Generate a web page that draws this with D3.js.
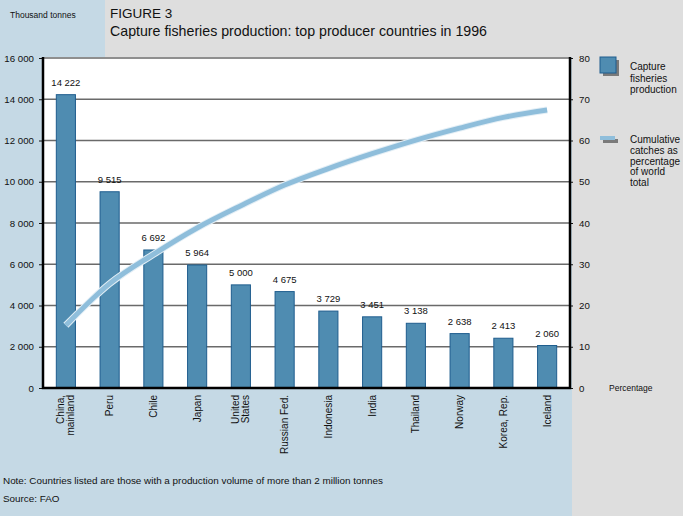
<!DOCTYPE html>
<html>
<head>
<meta charset="utf-8">
<script src="https://cdn.jsdelivr.net/npm/d3@7/dist/d3.min.js"></script>
<style>
  html, body { margin: 0; padding: 0; background: #dedede; }
  svg { display: block; font-family: "Liberation Sans", Arial, sans-serif; }
</style>
</head>
<body>
<svg id="chart" width="683" height="516"></svg>
<script>
// Top capture-fisheries producers, 1996
const countries = ["China,|mainland", "Peru", "Chile", "Japan", "United|States", "Russian Fed.",
                   "Indonesia", "India", "Thailand", "Norway", "Korea, Rep.", "Iceland"];
const production = [14222, 9515, 6692, 5964, 5000, 4675, 3729, 3451, 3138, 2638, 2413, 2060]; // thousand tonnes
const cumulativePct = [15.2, 25.3, 32.4, 38.8, 44.2, 49.2, 53.2, 56.8, 60.1, 63.0, 65.6, 67.4]; // % of world total
const leftTicks = [0, 2000, 4000, 6000, 8000, 10000, 12000, 14000, 16000];
const rightTicks = [0, 10, 20, 30, 40, 50, 60, 70, 80];

const fmt = v => d3.format(",")(v).replace(/,/g, " ");

const svg = d3.select("#chart");
const W = 683, H = 516;
const plot = { left: 43, right: 570, top: 57, bottom: 388 };

// Background panels
svg.append("rect").attr("x", 0).attr("y", 0).attr("width", W).attr("height", H).attr("fill", "#dedede");
svg.append("rect").attr("x", 0).attr("y", 0).attr("width", 105).attr("height", H).attr("fill", "#c5d9e5");
svg.append("rect").attr("x", 0).attr("y", plot.top).attr("width", 572).attr("height", H - plot.top).attr("fill", "#c5d9e5");
svg.append("rect").attr("x", plot.left).attr("y", plot.top)
  .attr("width", plot.right - plot.left).attr("height", plot.bottom - plot.top).attr("fill", "#ffffff");

// Header
svg.append("text").attr("x", 10).attr("y", 18).attr("font-size", 8.5).attr("fill", "#111")
  .text("Thousand tonnes");
svg.append("text").attr("x", 110).attr("y", 18).attr("font-size", 13.5).attr("fill", "#111")
  .text("FIGURE 3");
svg.append("text").attr("x", 110).attr("y", 36).attr("font-size", 14.2).attr("fill", "#111")
  .text("Capture fisheries production: top producer countries in 1996");

// Scales
const x = d3.scaleBand().domain(countries).range([44, 569]).paddingInner(0.54).paddingOuter(0.27);
const yL = d3.scaleLinear().domain([0, 16000]).range([plot.bottom, plot.top + 1]);
const yR = d3.scaleLinear().domain([0, 80]).range([plot.bottom, plot.top + 1]);

// Gridlines
svg.append("g").selectAll("line").data(leftTicks.filter(t => t > 0)).join("line")
  .attr("x1", plot.left).attr("x2", plot.right)
  .attr("y1", d => yL(d)).attr("y2", d => yL(d))
  .attr("stroke", "#6a6a6a").attr("stroke-width", 1.4);

// Left axis
const leftAxis = svg.append("g").attr("transform", `translate(${plot.left},0)`)
  .call(d3.axisLeft(yL).tickValues(leftTicks).tickFormat(fmt).tickSize(4).tickPadding(5));
leftAxis.select(".domain").remove();
leftAxis.selectAll("line").attr("stroke", "#111");
leftAxis.selectAll("text").attr("font-size", 9.7).attr("fill", "#111")
  .attr("font-family", "Liberation Sans, Arial, sans-serif");

// Right axis
const rightAxis = svg.append("g").attr("transform", `translate(${plot.right},0)`)
  .call(d3.axisRight(yR).tickValues(rightTicks).tickSize(3).tickPadding(6));
rightAxis.select(".domain").remove();
rightAxis.selectAll("line").attr("stroke", "#111");
rightAxis.selectAll("text").attr("font-size", 9.7).attr("fill", "#111")
  .attr("font-family", "Liberation Sans, Arial, sans-serif");

svg.append("text").attr("x", 609).attr("y", 391).attr("font-size", 8.5).attr("fill", "#111")
  .text("Percentage");

// Bars
svg.append("g").selectAll("rect").data(countries).join("rect")
  .attr("x", d => x(d) + 0.5)
  .attr("y", (d, i) => yL(production[i]))
  .attr("width", x.bandwidth() - 1)
  .attr("height", (d, i) => plot.bottom - yL(production[i]))
  .attr("fill", "#4f8cb1").attr("stroke", "#1f5d8e").attr("stroke-width", 1);

// Bar value labels
svg.append("g").selectAll("text").data(countries).join("text")
  .attr("x", d => x(d) + x.bandwidth() / 2)
  .attr("y", (d, i) => yL(production[i]) - 9)
  .attr("text-anchor", "middle").attr("font-size", 9.5).attr("fill", "#111")
  .text((d, i) => fmt(production[i]));

// Cumulative percentage curve
const line = d3.line()
  .x((d, i) => x(countries[i]) + x.bandwidth() / 2)
  .y(d => yR(d))
  .curve(d3.curveMonotoneX);
svg.append("path").datum(cumulativePct).attr("d", line)
  .attr("fill", "none").attr("stroke", "#e4eff6").attr("stroke-width", 7).attr("stroke-linecap", "butt");
svg.append("path").datum(cumulativePct).attr("d", line)
  .attr("fill", "none").attr("stroke", "#8fbedb").attr("stroke-width", 5).attr("stroke-linecap", "butt");

// Plot frame (left, bottom, right)
svg.append("path")
  .attr("d", `M${plot.left},${plot.top} V${plot.bottom} H${plot.right} V${plot.top}`)
  .attr("fill", "none").attr("stroke", "#000").attr("stroke-width", 2.5);

// Category labels, rotated
const xl = svg.append("g").selectAll("text").data(countries).join("text")
  .attr("transform", d => `translate(${x(d) + x.bandwidth() / 2},395) rotate(-90)`)
  .attr("text-anchor", "end").attr("font-size", 10).attr("fill", "#111");
xl.each(function(d) {
  const parts = d.split("|");
  const t = d3.select(this);
  parts.forEach((p, k) => {
    t.append("tspan").attr("x", 0)
      .attr("y", parts.length === 1 ? 3.5 : (k === 0 ? -1.5 : 8))
      .text(p);
  });
});

// Legend
const lg = svg.append("g");
lg.append("rect").attr("x", 603).attr("y", 60).attr("width", 16).attr("height", 16).attr("fill", "#7a7a7a");
lg.append("rect").attr("x", 600).attr("y", 57).attr("width", 16).attr("height", 16)
  .attr("fill", "#4f8cb1").attr("stroke", "#1f5d8e").attr("stroke-width", 1);
["Capture", "fisheries", "production"].forEach((s, k) => {
  lg.append("text").attr("x", 630).attr("y", 70 + k * 11.5).attr("font-size", 10).attr("fill", "#111").text(s);
});
lg.append("rect").attr("x", 603).attr("y", 139).attr("width", 15).attr("height", 4).attr("fill", "#7a7a7a");
lg.append("rect").attr("x", 600).attr("y", 136).attr("width", 15).attr("height", 4).attr("fill", "#8fbedb");
["Cumulative", "catches as", "percentage", "of world", "total"].forEach((s, k) => {
  lg.append("text").attr("x", 630).attr("y", 143 + k * 10.8).attr("font-size", 10).attr("fill", "#111").text(s);
});

// Notes
svg.append("text").attr("x", 3).attr("y", 484).attr("font-size", 9.9).attr("fill", "#111")
  .text("Note: Countries listed are those with a production volume of more than 2 million tonnes");
svg.append("text").attr("x", 3).attr("y", 502).attr("font-size", 9.9).attr("fill", "#111")
  .text("Source: FAO");
</script>
</body>
</html>
